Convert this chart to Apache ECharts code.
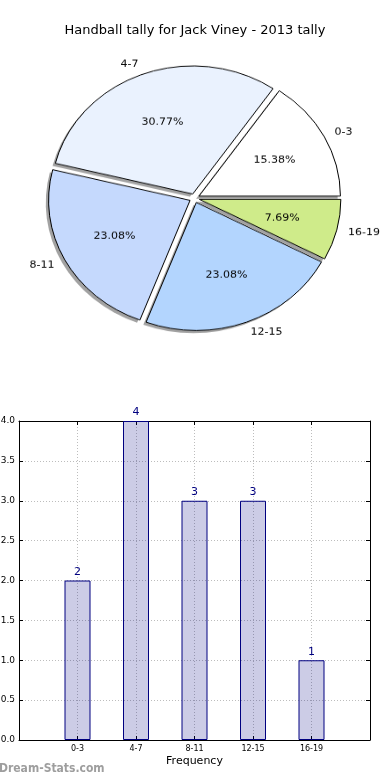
<!DOCTYPE html>
<html><head><meta charset="utf-8">
<script src="https://cdn.jsdelivr.net/npm/echarts@6/dist/echarts.min.js"></script>
<style>
html,body{margin:0;padding:0;background:#fff;}
#main{position:absolute;left:0;top:0;width:390px;height:780px;}
#pie{position:absolute;left:0;top:0;width:390px;height:400px;transform:scaleY(0.905);transform-origin:193.7px 198.2px;}
</style>
</head><body><div id="main"></div><div id="pie"></div>
<script>
const chartTitle = 'Handball tally for Jack Viney - 2013 tally';
const categories = ['0-3', '4-7', '8-11', '12-15', '16-19'];
const counts = [2, 4, 3, 3, 1];
const pieColors = ['#ffffff', '#eaf2fe', '#c5d9fd', '#b3d5fe', '#cfeb8a'];
const xName = 'Frequency';
const watermark = 'Dream-Stats.com';

const FONT = 'DejaVu Sans';
const R = 141.5;
const CENTER = [194.5, 198.2];
const SHADOW_CENTER = [CENTER[0] - 2.8, CENTER[1] + 2.9];

const pieData = categories.map((c, i) => ({
  name: c, value: counts[i], selected: true,
  itemStyle: { color: pieColors[i] }
}));
const shadowData = categories.map((c, i) => ({ name: c, value: counts[i], selected: true }));
const pctData = categories.map((c, i) => ({ name: c, value: counts[i], selected: true }));

const pieBase = {
  type: 'pie', radius: [0, R], startAngle: 0, clockwise: false,
  selectedMode: 'multiple', selectedOffset: 5,
  avoidLabelOverlap: false, silent: true
};

const pie = echarts.init(document.getElementById('pie'), null, { renderer: 'canvas' });
pie.setOption({
  animation: false,
  textStyle: { fontFamily: FONT },
  series: [
    Object.assign({}, pieBase, {
      center: SHADOW_CENTER, z: 1,
      itemStyle: { color: 'rgba(70,70,70,0.5)', borderWidth: 0 },
      label: { show: false }, labelLine: { show: false },
      data: shadowData
    }),
    Object.assign({}, pieBase, {
      center: CENTER, z: 2,
      itemStyle: { borderColor: '#000', borderWidth: 1 },
      label: { show: true, position: 'outside', formatter: '{b}', color: '#000', fontSize: 11, fontFamily: FONT, distanceToLabelLine: 0 },
      labelLine: { show: false, length: 0.1 * R - 2.5, length2: 0 },
      data: pieData
    }),
    Object.assign({}, pieBase, {
      center: CENTER, radius: [0.2 * R, R], selectedOffset: 2.5, z: 5,
      itemStyle: { color: 'rgba(0,0,0,0)', borderWidth: 0 },
      label: { show: true, position: 'inside', formatter: p => p.percent.toFixed(2) + '%', color: '#000', fontSize: 11, fontFamily: FONT },
      labelLine: { show: false },
      data: pctData
    })
  ]
});

const main = echarts.init(document.getElementById('main'), null, { renderer: 'canvas' });
const gridLine = { show: true, lineStyle: { color: '#bdbdbd', type: [1, 2], width: 1 }, showMinLine: false, showMaxLine: false };
const frameLine = { show: true, onZero: false, lineStyle: { color: '#000', width: 1 } };
const innerTick = { show: true, inside: true, length: 4, lineStyle: { color: '#000' } };
main.setOption({
  animation: false,
  backgroundColor: '#fff',
  textStyle: { fontFamily: FONT },
  title: { text: chartTitle, left: 'center', top: 19, textStyle: { fontSize: 13, fontWeight: 'normal', color: '#000', fontFamily: FONT } },
  grid: { left: 19, right: 20, top: 421, bottom: 40, containLabel: false, outerBoundsMode: 'none' },
  xAxis: [
    {
      type: 'value', min: -1, max: 5, interval: 1, position: 'bottom',
      axisLine: frameLine, axisTick: innerTick,
      axisLabel: { formatter: v => (categories[v] !== undefined ? categories[v] : ''), fontSize: 8, color: '#000', margin: 5, fontFamily: FONT },
      splitLine: gridLine,
      name: xName, nameLocation: 'middle', nameGap: 16,
      nameTextStyle: { fontSize: 11, color: '#000', fontFamily: FONT }
    },
    {
      type: 'value', min: -1, max: 5, interval: 1, position: 'top',
      axisLine: frameLine, axisTick: innerTick,
      axisLabel: { show: false }, splitLine: { show: false }
    }
  ],
  yAxis: [
    {
      type: 'value', min: 0, max: 4, interval: 0.5, position: 'left',
      axisLine: frameLine, axisTick: innerTick,
      axisLabel: { formatter: v => v.toFixed(1), fontSize: 9, color: '#000', margin: 4, fontFamily: FONT },
      splitLine: gridLine
    },
    {
      type: 'value', min: 0, max: 4, interval: 0.5, position: 'right',
      axisLine: frameLine, axisTick: innerTick,
      axisLabel: { show: false }, splitLine: { show: false }
    }
  ],
  graphic: [{
    type: 'text', left: -1, top: 763,
    style: { text: watermark, fontSize: 12, fontWeight: 'bold', fill: '#9e9e9e', fontFamily: 'DejaVu Sans Condensed' }
  }],
  series: [{
    type: 'bar', xAxisIndex: 0, yAxisIndex: 0,
    data: categories.map((c, i) => [i, counts[i]]),
    barWidth: 26,
    itemStyle: { color: 'rgba(0,0,128,0.2)', borderColor: '#000080', borderWidth: 1 },
    label: { show: true, position: 'top', distance: 3, color: '#000080', fontSize: 11, fontFamily: FONT }
  }]
});
</script>
</body></html>
